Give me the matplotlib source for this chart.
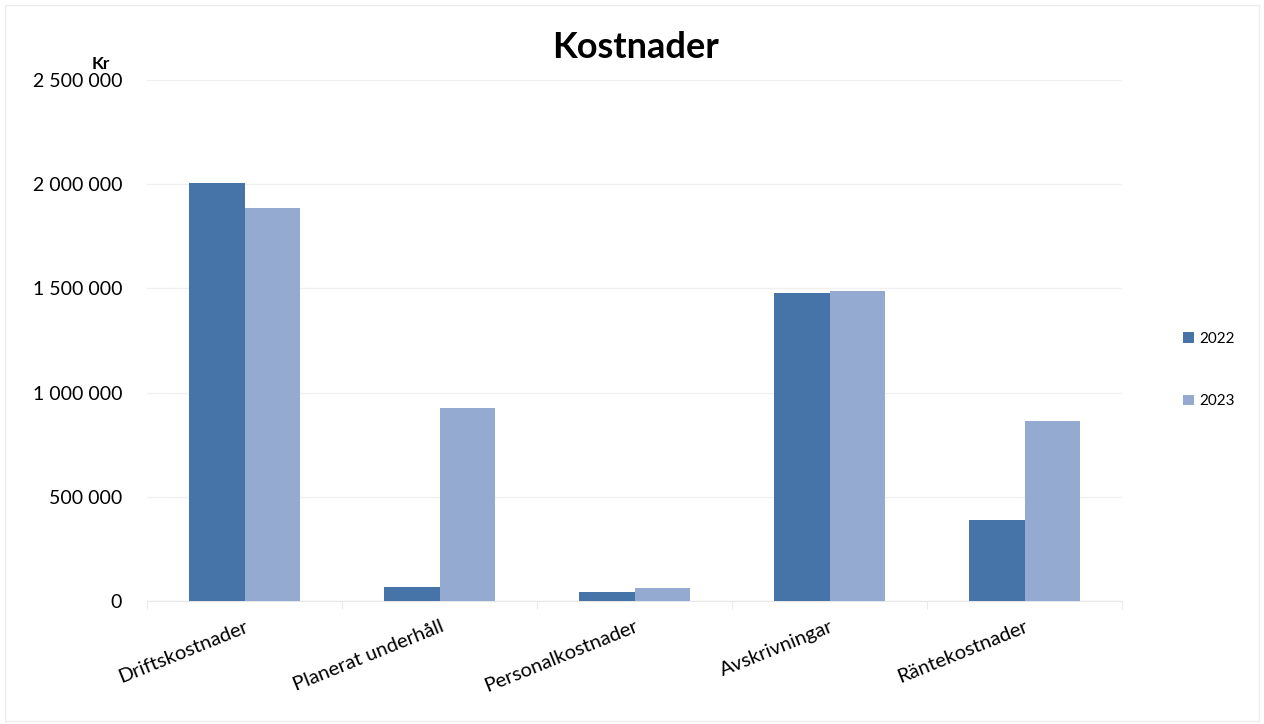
import numpy as np
import matplotlib.pyplot as plt
from matplotlib.ticker import FuncFormatter, MultipleLocator
from matplotlib.patches import Rectangle

plt.rcParams["font.family"] = ["Lato", "DejaVu Sans"]

categories = [
    "Driftskostnader",
    "Planerat underhåll",
    "Personalkostnader",
    "Avskrivningar",
    "Räntekostnader",
]
values_2022 = [2005000, 66000, 45000, 1478000, 388000]
values_2023 = [1886000, 927000, 64000, 1487000, 864000]
series_labels = ["2022", "2023"]
colors = ["#4674a8", "#95aad0"]

fig = plt.figure(figsize=(12.64, 7.24), dpi=100)
ax = fig.add_axes([0.1163, 0.1699, 0.7714, 0.7196])

x = np.arange(len(categories))
w = 0.285
ax.bar(x - w / 2, values_2022, w, color=colors[0], label=series_labels[0], zorder=3)
ax.bar(x + w / 2, values_2023, w, color=colors[1], label=series_labels[1], zorder=3)

ax.set_xlim(-0.5, len(categories) - 0.5)
ax.set_ylim(0, 2500000)
ax.yaxis.set_major_locator(MultipleLocator(500000))
ax.yaxis.set_major_formatter(FuncFormatter(lambda v, p: f"{int(v):,}".replace(",", " ")))
ax.grid(axis="y", color="#f0f0f0", linewidth=1, zorder=0)

for s in ["top", "right", "left"]:
    ax.spines[s].set_visible(False)
ax.spines["bottom"].set_color("#e6e6e6")

ax.set_xticks(x)
ax.set_xticklabels(categories, rotation=22, ha="right", rotation_mode="anchor", fontsize=14.5)
ax.set_xticks(np.arange(-0.5, len(categories)), minor=True)
ax.tick_params(axis="x", which="major", length=0, pad=12)
ax.tick_params(axis="x", which="minor", length=6, color="#e6e6e6")
ax.tick_params(axis="y", length=0, labelsize=14, pad=18)

fig.text(0.503, 0.934, "Kostnader", ha="center", va="center", fontsize=26, fontweight="bold")
fig.text(0.080, 0.912, "Kr", ha="center", va="center", fontsize=12.5, fontweight="bold")

fig.legend(loc="center left", bbox_to_anchor=(0.925, 0.489), frameon=False,
           fontsize=11, labelspacing=3.2, handlelength=0.7, handleheight=0.7,
           handletextpad=0.4)

fig.patches.append(Rectangle((0.004, 0.004), 0.992, 0.989, transform=fig.transFigure,
                             fill=False, edgecolor="#ececec", linewidth=1))

fig.savefig("out.png", dpi=100)
